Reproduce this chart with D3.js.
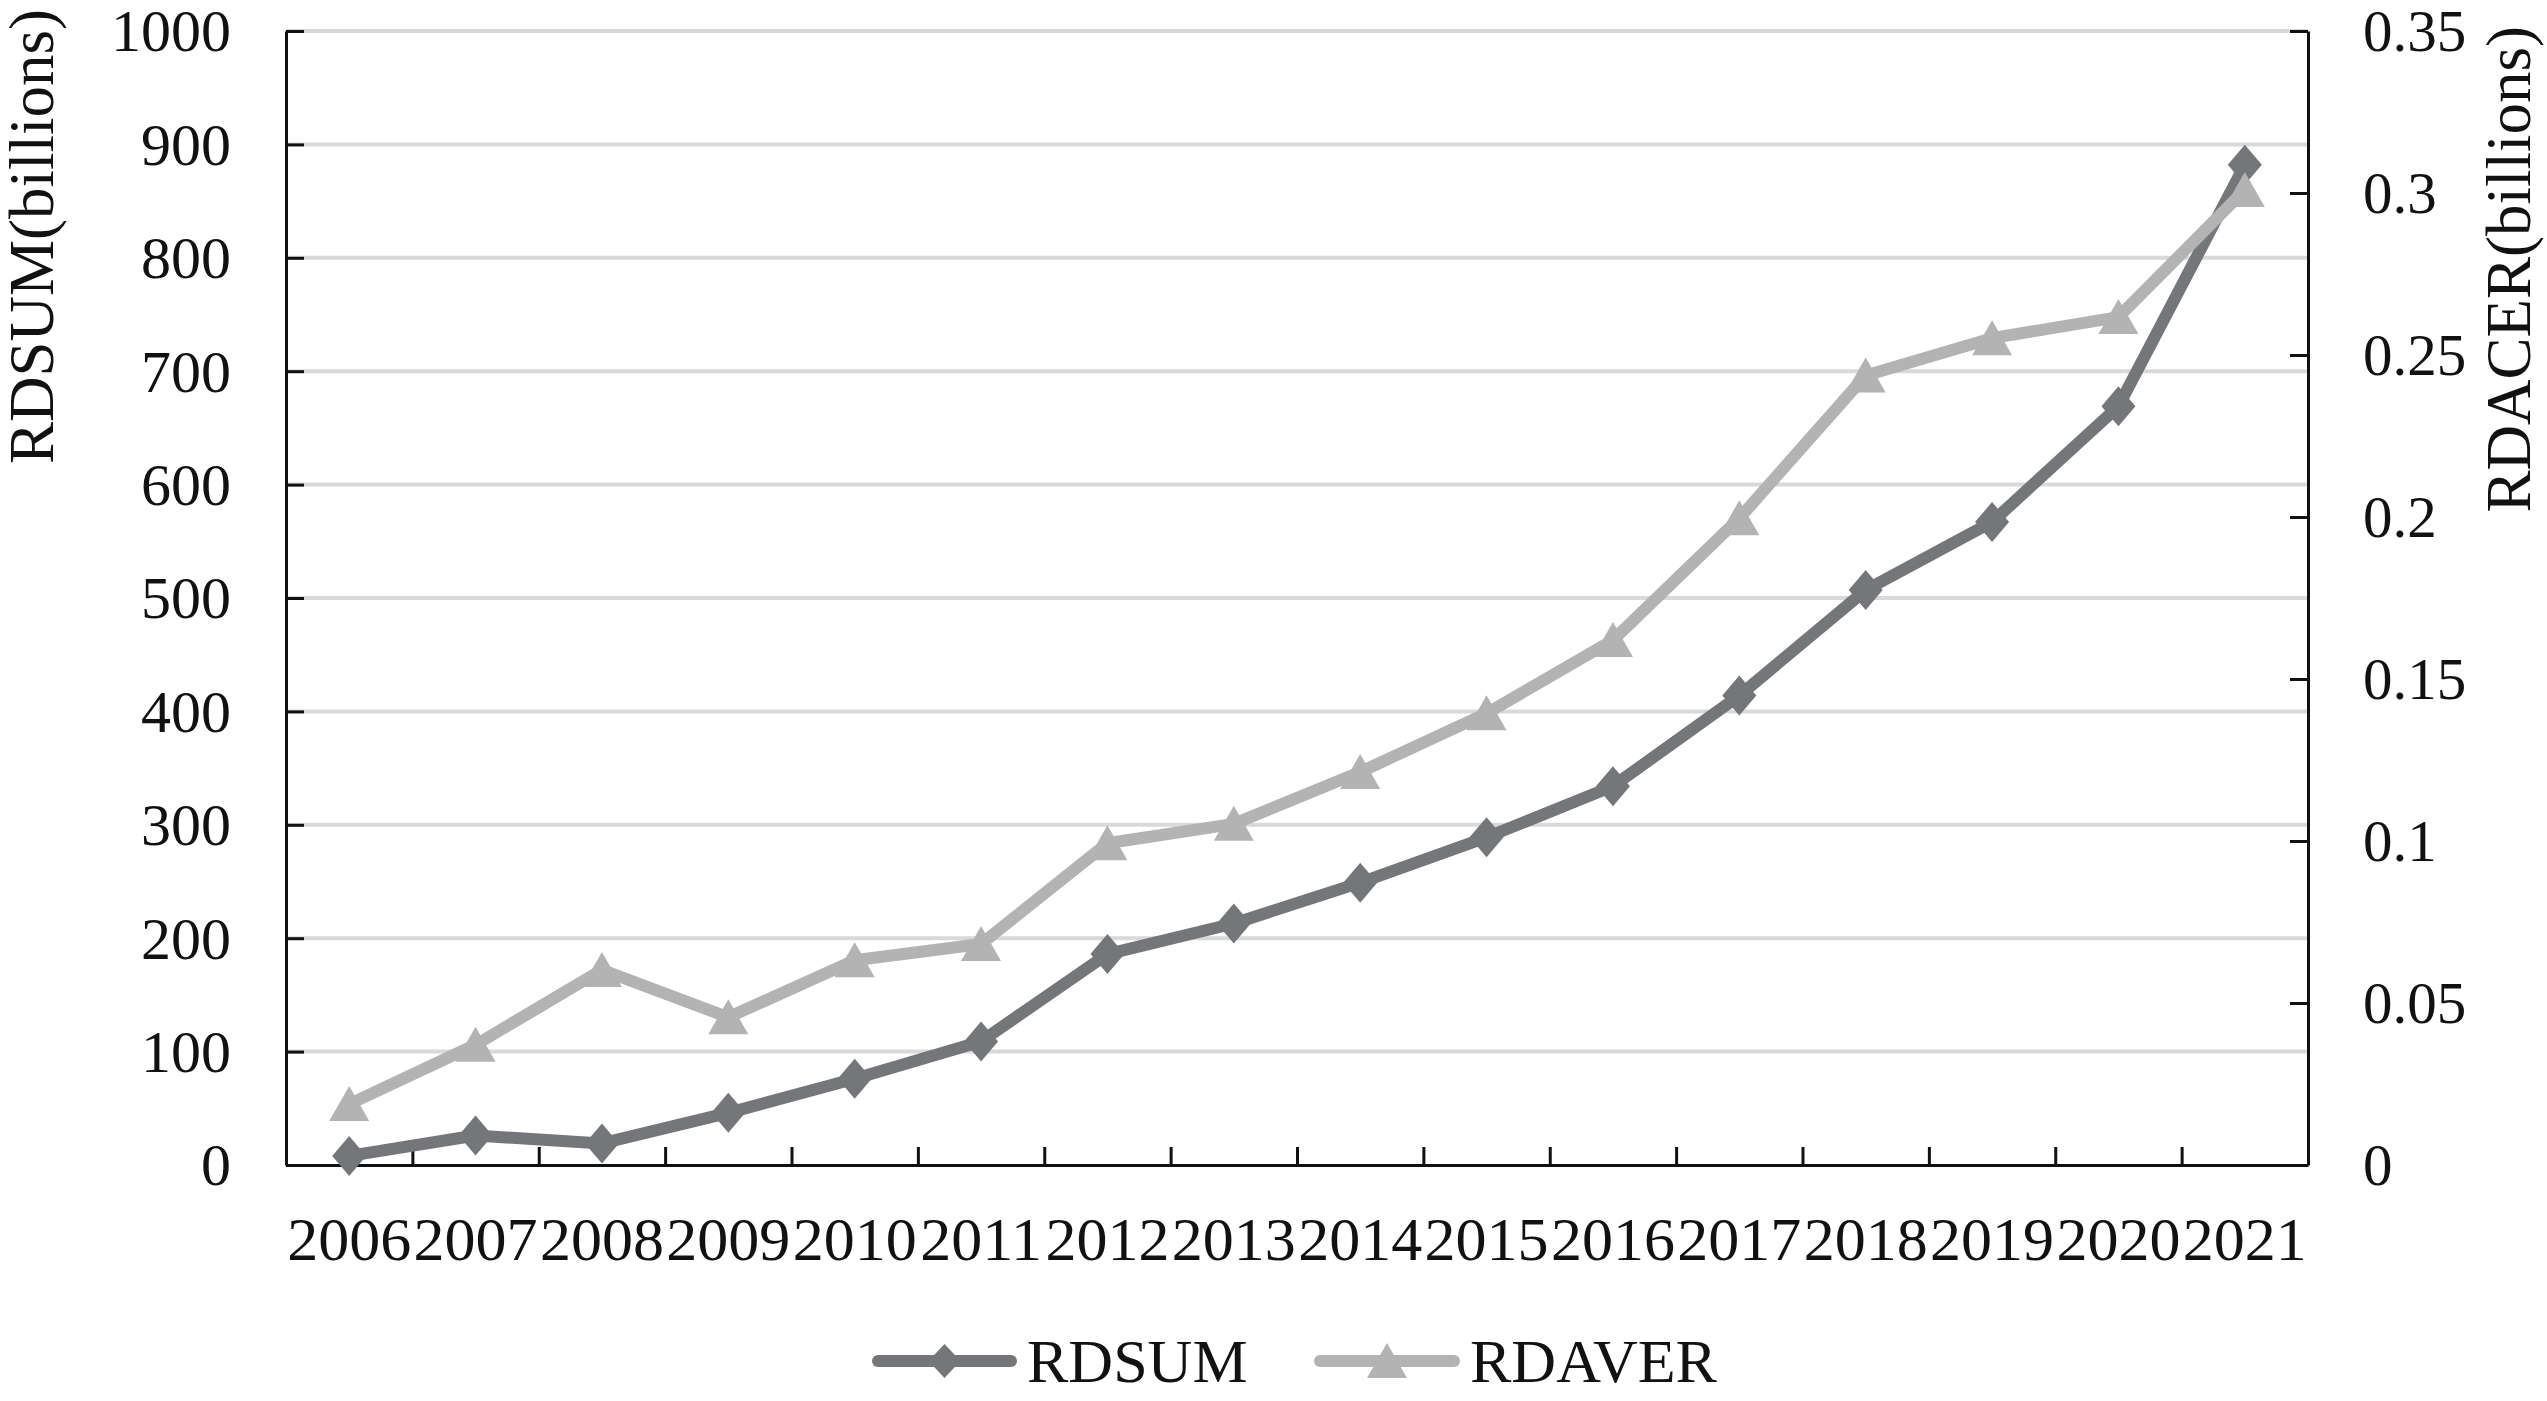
<!DOCTYPE html>
<html>
<head>
<meta charset="utf-8">
<script src="https://cdn.jsdelivr.net/npm/d3@7"></script>
<style>
  html, body { margin: 0; padding: 0; background: #fff; }
  text { font-family: "Liberation Serif", "Times New Roman", serif; fill: #111; }
</style>
</head>
<body>
<svg width="2547" height="1401"></svg>
<script>
const years = ["2006","2007","2008","2009","2010","2011","2012","2013","2014","2015","2016","2017","2018","2019","2020","2021"];
const rdsum = [8, 26, 19, 46, 76, 109, 186, 213, 249, 289, 334, 414, 507, 567, 669, 882];
const rdaver = [0.0188, 0.0371, 0.0602, 0.0456, 0.0632, 0.0682, 0.0993, 0.1053, 0.1213, 0.1394, 0.162, 0.1996, 0.2437, 0.2552, 0.2617, 0.3009];
const leftTicks = [0, 100, 200, 300, 400, 500, 600, 700, 800, 900, 1000];
const rightTicks = [0, 0.05, 0.1, 0.15, 0.2, 0.25, 0.3, 0.35];
const rightLabels = ["0", "0.05", "0.1", "0.15", "0.2", "0.25", "0.3", "0.35"];

const svg = d3.select("svg");
const plot = {left: 286, right: 2308, top: 31, bottom: 1165};
const sumColor = "#75767a", averColor = "#b3b3b3";

const x = d3.scaleBand().domain(years).range([plot.left, plot.right]);
const xb = d3.scaleLinear().domain([0, years.length]).range([plot.left, plot.right]);
const y = d3.scaleLinear().domain([0, 1000]).range([plot.bottom, plot.top]);
const y2 = d3.scaleLinear().domain([0, 0.35]).range([plot.bottom, plot.top]);
const cx = d => x(d) + x.bandwidth() / 2;

// gridlines
svg.append("g")
  .selectAll("line")
  .data(leftTicks.slice(1))
  .join("line")
  .attr("x1", plot.left).attr("x2", plot.right)
  .attr("y1", d => y(d)).attr("y2", d => y(d))
  .attr("stroke", "#d9d9d9")
  .attr("stroke-width", 4);

// axes, ticks pointing inward
const axL = svg.append("g")
  .attr("transform", "translate(" + plot.left + ",0)")
  .call(d3.axisLeft(y).tickValues(leftTicks).tickSize(-18).tickSizeOuter(0).tickFormat(""));
const axR = svg.append("g")
  .attr("transform", "translate(" + plot.right + ",0)")
  .call(d3.axisRight(y2).tickValues(rightTicks).tickSize(-18).tickSizeOuter(0).tickFormat(""));
const axB = svg.append("g")
  .attr("transform", "translate(0," + plot.bottom + ")")
  .call(d3.axisBottom(xb).tickValues(d3.range(1, years.length)).tickSize(-18).tickSizeOuter(0).tickFormat(""));
[axL, axR, axB].forEach(a => {
  a.selectAll("path, line").attr("stroke", "#111").attr("stroke-width", 3);
});

// tick labels
svg.append("g")
  .selectAll("text")
  .data(leftTicks)
  .join("text")
  .attr("x", 231)
  .attr("y", d => y(d))
  .attr("dy", "0.34em")
  .attr("text-anchor", "end")
  .attr("font-size", 60)
  .text(d => d);

svg.append("g")
  .selectAll("text")
  .data(rightTicks)
  .join("text")
  .attr("x", 2363)
  .attr("y", d => y2(d))
  .attr("dy", "0.34em")
  .attr("text-anchor", "start")
  .attr("font-size", 59)
  .text((d, i) => rightLabels[i]);

svg.append("g")
  .selectAll("text")
  .data(years)
  .join("text")
  .attr("x", d => cx(d))
  .attr("y", 1260)
  .attr("text-anchor", "middle")
  .attr("font-size", 62)
  .text(d => d);

// axis titles
svg.append("text")
  .attr("transform", "translate(53,9) rotate(-90)")
  .attr("text-anchor", "end")
  .attr("font-size", 63)
  .text("RDSUM(billions)");

svg.append("text")
  .attr("transform", "translate(2530,26) rotate(-90)")
  .attr("text-anchor", "end")
  .attr("font-size", 63)
  .text("RDACER(billions)");

// lines
const lineSum = d3.line().x((d, i) => cx(years[i])).y(d => y(d));
const lineAver = d3.line().x((d, i) => cx(years[i])).y(d => y2(d));

const diamond = "M0,-20L17,0L0,20L-17,0Z";
const diamondSmall = "M0,-17L16,0L0,17L-16,0Z";
const triangle = "M0,-18L20,17L-20,17Z";

svg.append("path")
  .datum(rdsum)
  .attr("fill", "none")
  .attr("stroke", sumColor)
  .attr("stroke-width", 12)
  .attr("stroke-linejoin", "round")
  .attr("d", lineSum);

svg.append("g")
  .selectAll("path")
  .data(rdsum)
  .join("path")
  .attr("transform", (d, i) => "translate(" + cx(years[i]) + "," + y(d) + ")")
  .attr("fill", sumColor)
  .attr("d", diamond);

svg.append("path")
  .datum(rdaver)
  .attr("fill", "none")
  .attr("stroke", averColor)
  .attr("stroke-width", 12)
  .attr("stroke-linejoin", "round")
  .attr("d", lineAver);

svg.append("g")
  .selectAll("path")
  .data(rdaver)
  .join("path")
  .attr("transform", (d, i) => "translate(" + cx(years[i]) + "," + y2(d) + ")")
  .attr("fill", averColor)
  .attr("d", triangle);

// legend
const legend = [
  { name: "RDSUM", color: sumColor, shape: diamondSmall, x1: 878, x2: 1011, tx: 1027 },
  { name: "RDAVER", color: averColor, shape: triangle, x1: 1320, x2: 1454, tx: 1470 }
];
const lg = svg.append("g").selectAll("g").data(legend).join("g");
lg.append("line")
  .attr("x1", d => d.x1).attr("x2", d => d.x2)
  .attr("y1", 1361).attr("y2", 1361)
  .attr("stroke", d => d.color)
  .attr("stroke-width", 12)
  .attr("stroke-linecap", "round");
lg.append("path")
  .attr("transform", d => "translate(" + (d.x1 + d.x2) / 2 + ",1361)")
  .attr("fill", d => d.color)
  .attr("d", d => d.shape);
lg.append("text")
  .attr("x", d => d.tx)
  .attr("y", 1382)
  .attr("font-size", 62)
  .text(d => d.name);
</script>
</body>
</html>
